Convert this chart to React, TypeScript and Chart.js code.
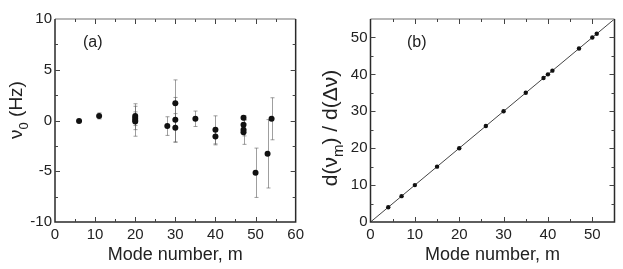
import React, { useEffect, useRef } from 'react';
import { Chart, registerables } from 'chart.js';

Chart.register(...registerables);

// Panel (a): mode number vs nu0 (Hz) with error bars
const modeA = [6, 11, 20, 20, 20, 20, 28, 30, 30, 30, 35, 40, 40, 47, 47, 47, 47, 50, 53, 54];
const nu0 = [-0.05, 0.45, 0.45, 0.25, 0.05, -0.1, -0.55, 1.7, 0.07, -0.72, 0.17, -0.92, -1.58, 0.27, -0.42, -0.92, -1.15, -5.15, -3.28, 0.17];
const nu0Err = [0, 0.3, 0.4, 1.15, 1.6, 0.4, 0.92, 2.3, 2.2, 1.4, 0.76, 1.38, 0.82, 0.2, 0.5, 0.6, 1.2, 2.43, 3.37, 2.07];

// Panel (b): mode number vs d(nu_m)/d(Delta nu)
const modeB = [4, 7, 10, 15, 20, 26, 30, 35, 39, 40, 41, 47, 50, 51];
const deriv = [4, 7, 10, 15, 20, 26, 30, 35, 39, 40, 41, 47, 50, 51];
const fitX = [0, 55];
const fitY = [0, 55];

// Tick labels
const xTicksA = [0, 10, 20, 30, 40, 50, 60];
const yTicksA = [-10, -5, 0, 5, 10];
const xTicksB = [0, 10, 20, 30, 40, 50];
const yTicksB = [0, 10, 20, 30, 40, 50];

const FONT = "'Liberation Sans', Arial, Helvetica, sans-serif";
Chart.defaults.font.family = FONT;

const framePlugin = {
  id: 'frame',
  beforeDatasetsDraw(chart: any, _args: any, opts: any) {
    if (!opts.errX) return;
    const xs = chart.scales.x;
    const ys = chart.scales.y;
    const ctx = chart.ctx;
    ctx.save();
    ctx.strokeStyle = 'rgba(95,95,95,0.6)';
    ctx.lineWidth = 1;
    opts.errX.forEach((m: number, i: number) => {
      const e = opts.errE[i];
      if (!e) return;
      const px = Math.round(xs.getPixelForValue(m)) + 0.5;
      const y1 = ys.getPixelForValue(opts.errY[i] + e);
      const y2 = ys.getPixelForValue(opts.errY[i] - e);
      ctx.beginPath();
      ctx.moveTo(px, y1);
      ctx.lineTo(px, y2);
      ctx.moveTo(px - 2, y1);
      ctx.lineTo(px + 2, y1);
      ctx.moveTo(px - 2, y2);
      ctx.lineTo(px + 2, y2);
      ctx.stroke();
    });
    ctx.restore();
  },
  afterDraw(chart: any, _args: any, opts: any) {
    const ctx = chart.ctx;
    const { left, right, top, bottom } = chart.chartArea;
    const xs = chart.scales.x;
    const ys = chart.scales.y;
    ctx.save();
    // frame
    ctx.lineWidth = 1.5;
    ctx.strokeStyle = '#a0a0a0';
    ctx.beginPath();
    ctx.moveTo(left, top);
    ctx.lineTo(right, top);
    ctx.stroke();
    ctx.strokeStyle = '#2a2a2a';
    ctx.beginPath();
    ctx.moveTo(right, top);
    ctx.lineTo(right, bottom);
    ctx.lineTo(left, bottom);
    ctx.lineTo(left, top);
    ctx.stroke();
    // inside ticks
    ctx.lineWidth = 1;
    ctx.strokeStyle = '#444';
    const drawX = (v: number, len: number) => {
      const px = Math.round(xs.getPixelForValue(v)) + 0.5;
      ctx.beginPath();
      ctx.moveTo(px, bottom);
      ctx.lineTo(px, bottom - len);
      ctx.moveTo(px, top);
      ctx.lineTo(px, top + len);
      ctx.stroke();
    };
    const drawY = (v: number, len: number) => {
      const py = Math.round(ys.getPixelForValue(v)) + 0.5;
      ctx.beginPath();
      ctx.moveTo(left, py);
      ctx.lineTo(left + len, py);
      ctx.moveTo(right, py);
      ctx.lineTo(right - len, py);
      ctx.stroke();
    };
    for (let v = xs.min; v <= xs.max + 1e-9; v += opts.xMinor) {
      const major = opts.xMajor.some((t: number) => Math.abs(t - v) < 1e-9);
      if (v > xs.min + 1e-9 && v < xs.max - 1e-9) drawX(v, major ? 5 : 3);
    }
    for (let v = ys.min; v <= ys.max + 1e-9; v += opts.yMinor) {
      const major = opts.yMajor.some((t: number) => Math.abs(t - v) < 1e-9);
      if (v > ys.min + 1e-9 && v < ys.max - 1e-9) drawY(v, major ? 5 : 3);
    }
    // panel label
    ctx.fillStyle = '#222';
    ctx.font = `16px ${FONT}`;
    ctx.textBaseline = 'middle';
    ctx.textAlign = 'left';
    ctx.fillText(opts.label, opts.labelX, opts.labelY);
    // y title with subscript
    const size = opts.titleSize;
    const parts = opts.titleParts as { t: string; sub?: boolean }[];
    const widths = parts.map((p) => {
      ctx.font = `${p.sub ? Math.round(size * 0.7) : size}px ${FONT}`;
      return ctx.measureText(p.t).width;
    });
    const total = widths.reduce((a, b) => a + b, 0);
    ctx.translate(opts.titleX, opts.titleY);
    ctx.rotate(-Math.PI / 2);
    ctx.textBaseline = 'alphabetic';
    let cx = -total / 2;
    parts.forEach((p, i) => {
      ctx.font = `${p.sub ? Math.round(size * 0.7) : size}px ${FONT}`;
      ctx.fillText(p.t, cx, p.sub ? size * 0.3 : 0);
      cx += widths[i];
    });
    ctx.restore();
  },
};

function axes(xmin: number, xmax: number, ymin: number, ymax: number, xt: number[], yt: number[], yWidth: number) {
  return {
    x: {
      type: 'linear',
      min: xmin,
      max: xmax,
      afterBuildTicks: (s: any) => {
        s.ticks = xt.map((v) => ({ value: v }));
      },
      afterFit: (s: any) => {
        s.height = 47;
      },
      grid: { display: false, drawTicks: false },
      border: { display: false },
      ticks: { font: { size: 15 }, color: '#222', padding: 4, maxRotation: 0, autoSkip: false },
      title: { display: true, text: 'Mode number, m', font: { size: 18 }, color: '#222', padding: { top: 0, bottom: 3 } },
    },
    y: {
      type: 'linear',
      min: ymin,
      max: ymax,
      afterBuildTicks: (s: any) => {
        s.ticks = yt.map((v) => ({ value: v }));
      },
      afterFit: (s: any) => {
        s.width = yWidth;
      },
      grid: { display: false, drawTicks: false },
      border: { display: false },
      ticks: { font: { size: 15 }, color: '#222', padding: 3, autoSkip: false },
    },
  };
}

export default function App() {
  const refA = useRef<HTMLCanvasElement>(null);
  const refB = useRef<HTMLCanvasElement>(null);

  useEffect(() => {
    const chartA = new Chart(refA.current as HTMLCanvasElement, {
      type: 'scatter',
      data: {
        datasets: [
          {
            data: modeA.map((m, i) => ({ x: m, y: nu0[i] })),
            pointRadius: 3,
            pointBackgroundColor: '#111',
            pointBorderWidth: 0,
          },
        ],
      },
      options: {
        responsive: false,
        animation: false,
        layout: { padding: { top: 19, right: 9, left: 0, bottom: 0 } },
        scales: axes(0, 60, -10, 10, xTicksA, yTicksA, 55) as any,
        plugins: {
          legend: { display: false },
          tooltip: { enabled: false },
          frame: {
            errX: modeA,
            errY: nu0,
            errE: nu0Err,
            xMinor: 5,
            yMinor: 2.5,
            xMajor: xTicksA,
            yMajor: yTicksA,
            label: '(a)',
            labelX: 83,
            labelY: 43,
            titleParts: [{ t: 'ν' }, { t: '0', sub: true }, { t: ' (Hz)' }],
            titleX: 22,
            titleY: 110,
            titleSize: 19,
          },
        } as any,
      },
      plugins: [framePlugin],
    });

    const chartB = new Chart(refB.current as HTMLCanvasElement, {
      type: 'scatter',
      data: {
        datasets: [
          {
            data: modeB.map((m, i) => ({ x: m, y: deriv[i] })),
            pointRadius: 2.2,
            pointBackgroundColor: '#111',
            pointBorderWidth: 0,
          },
          {
            data: fitX.map((x, i) => ({ x, y: fitY[i] })),
            showLine: true,
            pointRadius: 0,
            borderColor: '#444',
            borderWidth: 1,
          },
        ],
      },
      options: {
        responsive: false,
        animation: false,
        layout: { padding: { top: 19, right: 8.5, left: 0, bottom: 0 } },
        scales: axes(0, 55, 0, 55, xTicksB, yTicksB, 62.5) as any,
        plugins: {
          legend: { display: false },
          tooltip: { enabled: false },
          frame: {
            xMinor: 5,
            yMinor: 5,
            xMajor: xTicksB,
            yMajor: yTicksB,
            label: '(b)',
            labelX: 99,
            labelY: 43,
            titleParts: [{ t: 'd(ν' }, { t: 'm', sub: true }, { t: ') / d(Δν)' }],
            titleX: 29,
            titleY: 128,
            titleSize: 21,
          },
        } as any,
      },
      plugins: [framePlugin],
    });

    return () => {
      chartA.destroy();
      chartB.destroy();
    };
  }, []);

  return (
    <div style={{ position: 'fixed', left: 0, top: 0, width: 623, height: 269, background: '#fff' }}>
      <canvas ref={refA} width={308} height={269} style={{ position: 'absolute', left: 0, top: 0 }} />
      <canvas ref={refB} width={315} height={269} style={{ position: 'absolute', left: 308, top: 0 }} />
    </div>
  );
}
